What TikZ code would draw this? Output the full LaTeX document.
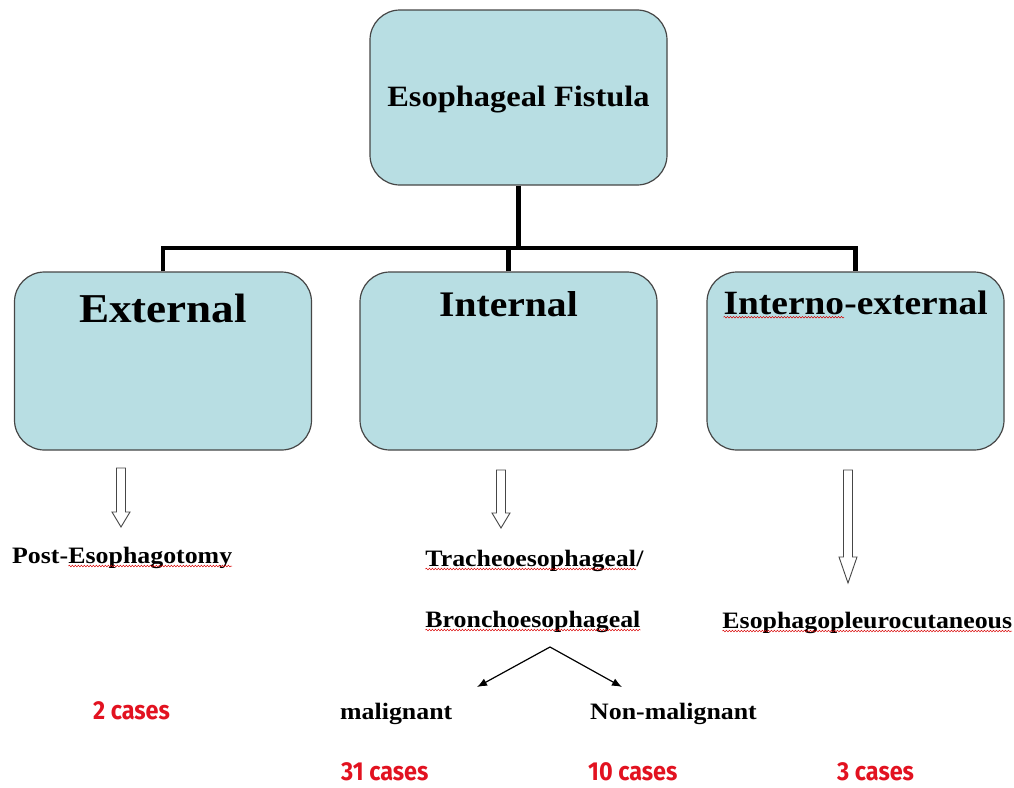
\documentclass[tikz,border=0pt]{standalone}
\usepackage{fontspec}
\setmainfont{Liberation Serif}[FakeStretch=1.1]
\newfontfamily\casefont{Fira Sans}[FakeStretch=0.9]
\usetikzlibrary{positioning,arrows.meta,decorations.pathmorphing}
\definecolor{boxfill}{RGB}{184,222,227}
\definecolor{boxline}{RGB}{70,70,70}
\definecolor{casered}{RGB}{226,18,32}
\newcommand\squig[1]{\tikz[baseline=(sq.base)]{\node[inner sep=0pt,outer sep=0pt] (sq) {#1};
  \draw[red!85!black,line width=0.5pt,decorate,decoration={snake,amplitude=0.8pt,segment length=3pt}] ([yshift=-3pt]sq.base west) -- ([yshift=-3pt]sq.base east);}}

\begin{document}
\begin{tikzpicture}[x=1pt,y=-1pt]
\tikzstyle{box}=[draw=boxline,line width=1.2pt,fill=boxfill,rounded corners=30pt,minimum width=297pt,minimum height=178pt,inner sep=0pt]
\tikzstyle{trunk}=[line width=4.5pt]
\tikzstyle{kind}=[font=\bfseries\fontsize{23.5}{26}\selectfont,inner sep=0pt,anchor=base west]
\tikzstyle{count}=[font=\casefont\bfseries\fontsize{26}{28}\selectfont,text=casered,inner sep=0pt,anchor=base west]
\tikzstyle{hollow}=[draw=boxline,line width=0.9pt,fill=white]

\useasboundingbox (0,0) rectangle (1014,787);

\node (root) [box,minimum height=175pt] at (518.5,97.5) {};
\node (rootlbl) [font=\bfseries\fontsize{29.5}{32}\selectfont] at ([yshift=-2pt]root.center) {Esophageal Fistula};

\node (ext) [box] at (163,361) {};
\node (int) [box] at (508.5,361) {};
\node (ie) [box] at (855.5,361) {};
\node (extlbl) [font=\bfseries\fontsize{41}{44}\selectfont,inner sep=0pt,below=22pt of ext.north] {External};
\node (intlbl) [font=\bfseries\fontsize{36}{39}\selectfont,inner sep=0pt,below=20pt of int.north] {Internal};
\node (ielbl) [font=\bfseries\fontsize{34}{37}\selectfont,inner sep=0pt,below=19pt of ie.north] {\squig{Interno}-external};

% tree lines
\draw [trunk] (root.south) -- ++(0,62.5) coordinate (bus);
\draw [trunk] (ext.north) |- (bus) -| (ie.north);
\draw [trunk] (int.north) -- (int.north |- bus);

% block arrows under the boxes
\foreach \x/\t/\h/\b in {121/468/512/527, 501/470/513/528, 848/470/557/583}
  \draw [hollow] (\x-4.5,\t) -- (\x+4.5,\t) -- (\x+4.5,\h) -- (\x+9,\h) -- (\x,\b) -- (\x-9,\h) -- (\x-4.5,\h) -- cycle;

\node (post) [kind] at (12,563) {Post-\squig{Esophagotomy}};
\node (tracheo) [kind] at (425,566) {\squig{Tracheoesophageal}/};
\node (broncho) [kind] at (425,627) {\squig{Bronchoesophageal}};
\node (pleuro) [kind] at (722,628) {\squig{Esophagopleurocutaneous}};
\node (malig) [kind] at (340,719) {malignant};
\node (nonmalig) [kind] at (590,719) {Non-malignant};

\coordinate (split) at (550,647);
\coordinate (tomalig) at (477,687);
\coordinate (tononmalig) at (622,687);
\draw [-{Latex[length=10pt,width=8pt]},line width=1.2pt] (split) -- (tomalig);
\draw [-{Latex[length=10pt,width=8pt]},line width=1.2pt] (split) -- (tononmalig);

\node (extcases) [count] at (93,719) {2 cases};
\node (maligcases) [count] at (341,780) {31 cases};
\node (nonmaligcases) [count] at (588,780) {10 cases};
\node (iecases) [count] at (837,780) {3 cases};
\end{tikzpicture}
\end{document}
